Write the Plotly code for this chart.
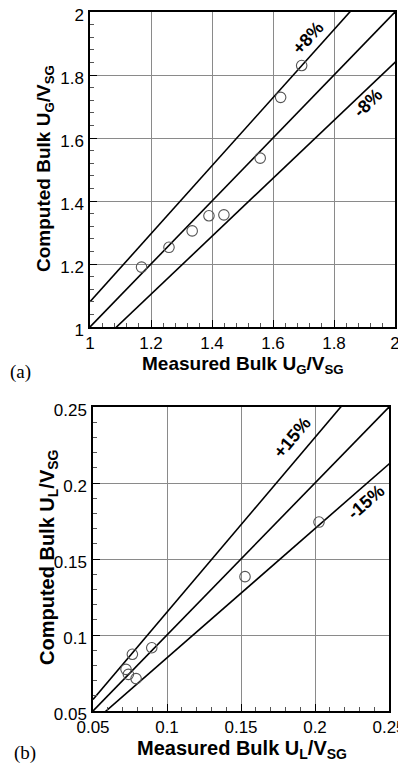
import plotly.graph_objects as go

# ---- data ----
gas_measured = [1.169, 1.259, 1.335, 1.390, 1.439, 1.558, 1.625, 1.694]
gas_computed = [1.190, 1.253, 1.305, 1.353, 1.356, 1.536, 1.729, 1.830]
liq_measured = [0.0723, 0.0739, 0.0766, 0.0791, 0.0897, 0.1527, 0.2027]
liq_computed = [0.0774, 0.0741, 0.0873, 0.0713, 0.0916, 0.1384, 0.1743]
gas_band = 0.08
liq_band = 0.15
gas_ticks = [1, 1.2, 1.4, 1.6, 1.8, 2]
gas_ticklabels = ["1", "1.2", "1.4", "1.6", "1.8", "2"]
liq_ticks = [0.05, 0.1, 0.15, 0.2, 0.25]
liq_ticklabels = ["0.05", "0.1", "0.15", "0.2", "0.25"]

# page body has an 8px default margin; the figure sits at (8, 8)
OFF = 8
W, H = 406 - OFF, 769 - OFF
fig = go.Figure()

def px(xp):
    return (xp - OFF) / W

def py(yp):
    return 1 - (yp - OFF) / H

TICKFONT = dict(family="Liberation Sans, Arial", size=17, color="black")

def add_panel(xa, ya, meas, comp, band, ticks, ticklabels, minor_dt, dom_x, dom_y):
    lo, hi = ticks[0], ticks[-1]
    xs = [lo, hi * 1.2]
    for f in (1 + band, 1.0, 1 - band):
        fig.add_trace(go.Scatter(x=xs, y=[v * f for v in xs], mode="lines",
                                 line=dict(color="black", width=1.6),
                                 xaxis=xa, yaxis=ya, showlegend=False, hoverinfo="skip"))
    fig.add_trace(go.Scatter(x=meas, y=comp, mode="markers",
                             marker=dict(symbol="circle-open", size=10.5, color="#555555",
                                         line=dict(width=1.1)),
                             xaxis=xa, yaxis=ya, showlegend=False, cliponaxis=False))
    common = dict(range=[lo, hi], tickvals=ticks, ticktext=ticklabels,
                  showgrid=True, gridcolor="#8a8a8a", gridwidth=1,
                  showline=True, linecolor="black", linewidth=1.5, mirror=True,
                  ticks="inside", ticklen=7, tickcolor="black", tickwidth=1,
                  tickfont=TICKFONT, zeroline=False, ticklabeloverflow="allow",
                  minor=dict(dtick=minor_dt, tick0=lo, ticks="inside", ticklen=4,
                             tickcolor="#555", showgrid=False))
    xkey = "xaxis" + xa[1:]
    ykey = "yaxis" + ya[1:]
    fig.layout[xkey] = dict(common, domain=dom_x, anchor=ya, ticklabelstandoff=0)
    fig.layout[ykey] = dict(common, domain=dom_y, anchor=xa, ticklabelstandoff=1,
                            ticklabelshift=3)

# Panel (a)
add_panel("x", "y", gas_measured, gas_computed, gas_band, gas_ticks, gas_ticklabels,
          0.04, [px(90), px(395)], [py(327), py(12)])
# Panel (b)
add_panel("x2", "y2", liq_measured, liq_computed, liq_band, liq_ticks, liq_ticklabels,
          0.01, [px(93), px(389)], [py(711), py(407)])

ann = []
TF_A = dict(family="Liberation Sans, Arial", size=19, color="black")
TF_B = dict(family="Liberation Sans, Arial", size=20, color="black")
C = dict(xanchor="center", yanchor="middle", showarrow=False)
# axis titles
ann.append(dict(text="<b>Measured Bulk U<sub>G</sub>/V<sub>SG</sub></b>", x=px(243), y=py(365),
                xref="paper", yref="paper", font=TF_A, **C))
ann.append(dict(text="<b>Computed Bulk U<sub>G</sub>/V<sub>SG</sub></b>", x=px(45), y=py(169),
                xref="paper", yref="paper", font=TF_A, textangle=-90, **C))
ann.append(dict(text="<b>Measured Bulk U<sub>L</sub>/V<sub>SG</sub></b>", x=px(242), y=py(749),
                xref="paper", yref="paper", font=TF_B, **C))
ann.append(dict(text="<b>Computed Bulk U<sub>L</sub>/V<sub>SG</sub></b>", x=px(48), y=py(557),
                xref="paper", yref="paper", font=TF_B, textangle=-90, **C))
# panel letters
ann.append(dict(text="(a)", x=px(20), y=py(372), xref="paper", yref="paper",
                font=dict(family="Liberation Serif, Times New Roman", size=19, color="black"), **C))
ann.append(dict(text="(b)", x=px(25), y=py(753), xref="paper", yref="paper",
                font=dict(family="Liberation Serif, Times New Roman", size=19, color="black"), **C))
# band labels
LBL = dict(family="Liberation Sans, Arial", size=18, color="black")
ann.append(dict(text="<b>+8%</b>", x=1.715, y=1.917, xref="x", yref="y",
                font=LBL, textangle=-48, **C))
ann.append(dict(text="<b>-8%</b>", x=1.911, y=1.711, xref="x", yref="y",
                font=LBL, textangle=-44, **C))
ann.append(dict(text="<b>+15%</b>", x=0.185, y=0.230, xref="x2", yref="y2",
                font=LBL, textangle=-50, **C))
ann.append(dict(text="<b>-15%</b>", x=0.2345, y=0.1875, xref="x2", yref="y2",
                font=LBL, textangle=-41, **C))

fig.update_layout(width=W, height=H, margin=dict(l=0, r=0, t=0, b=0, autoexpand=False),
                  paper_bgcolor="white", plot_bgcolor="white", annotations=ann,
                  showlegend=False)
fig.write_html("out.html")
